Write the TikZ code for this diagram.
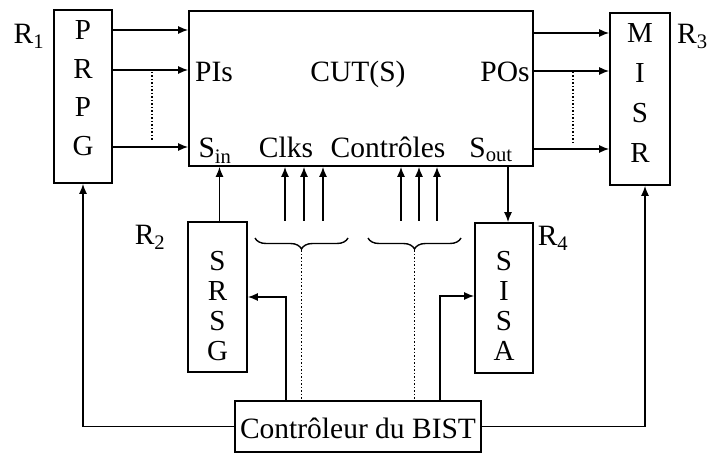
\documentclass[tikz,border=0pt]{standalone}
\usepackage{fontspec}
\setmainfont{Liberation Serif}
\usetikzlibrary{arrows.meta,decorations.pathreplacing}
\begin{document}
\begin{tikzpicture}[x=1pt,y=-1pt,
  box/.style={draw,line width=1.7pt,inner sep=0pt},
  arr/.style={line width=1.4pt,-{Latex[length=10pt,width=8pt]}},
  wire/.style={line width=1.4pt},
  dots/.style={line width=1.4pt,dash pattern=on 1.5pt off 2pt},
  lbl/.style={font=\fontsize{29.5}{32}\selectfont,inner sep=0pt},
  stack/.style={align=center,inner sep=0pt},
  br/.style={decorate,decoration={brace,mirror,amplitude=11pt},line width=1.4pt}
]
\useasboundingbox (0,0) rectangle (711,454);

% boxes
\node[box,minimum width=58pt,minimum height=173pt] (prpg) at (83,96.5) {};
\node[box,minimum width=344pt,minimum height=155pt] (cut) at (361,88.5) {};
\node[box,minimum width=60pt,minimum height=172pt] (misr) at (640,99) {};
\node[box,minimum width=59pt,minimum height=150pt] (srsg) at (217.5,297) {};
\node[box,minimum width=58pt,minimum height=150pt] (sisa) at (504,298) {};
\node[box,minimum width=246pt,minimum height=51pt] (ctrl) at (358,426.5) {};

% box texts
\node[stack,font=\fontsize{29}{38.5}\selectfont] (tprpg) at (83,88) {P\\R\\P\\G};
\node[stack,font=\fontsize{29}{40}\selectfont] (tmisr) at (640,93) {M\\I\\S\\R};
\node[stack,font=\fontsize{29}{30}\selectfont] (tsrsg) at (217.5,306) {S\\R\\S\\G};
\node[stack,font=\fontsize{29}{30}\selectfont] (tsisa) at (504,306) {S\\I\\S\\A};
\node[lbl] (tctrl) at (358,428) {Contrôleur du BIST};

% labels in CUT
\node[lbl,anchor=base] (pis) at (214,82) {PIs};
\node[lbl,anchor=base] (cuts) at (358,82) {CUT(S)};
\node[lbl,anchor=base] (pos) at (505,82) {POs};
\node[lbl,anchor=base] (sin) at (215,158) {S\textsubscript{in}};
\node[lbl,anchor=base] (clks) at (286,158) {Clks};
\node[lbl,anchor=base] (ctls) at (388,158) {Contrôles};
\node[lbl,anchor=base] (sout) at (491,158) {S\textsubscript{out}};

% register labels
\node[lbl] (r1) at (29,36) {R\textsubscript{1}};
\node[lbl,anchor=west] (r3) at (677,36) {R\textsubscript{3}};
\node[lbl] (r2) at (150,237) {R\textsubscript{2}};
\node[lbl] (r4) at (553,238) {R\textsubscript{4}};

% PRPG -> CUT
\foreach \yy in {30,70,147}
  \draw[arr] (prpg.east |- 0,\yy) -- (cut.west |- 0,\yy);
\draw[dots] (152,72) coordinate (d1a) -- (152,142) coordinate (d1b);

% CUT -> MISR
\foreach \yy in {33,71,149}
  \draw[arr] (cut.east |- 0,\yy) -- (misr.west |- 0,\yy);
\draw[dots] (573,72) coordinate (d2a) -- (573,143) coordinate (d2b);

% SRSG -> CUT (S_in)
\draw[arr] ([xshift=2pt]srsg.north) -- ([xshift=2pt]srsg.north |- cut.south);

% Clks and Controles inputs
\foreach \xx in {285,304,323,401,419,437}
  \draw[arr] (\xx,221) -- (cut.south -| \xx,0);

% braces
\draw[br] (255,238) -- (348,238);
\draw[br] (368,238) -- (461,238);
\coordinate (b1) at (301.5,250);
\coordinate (b2) at (414.5,250);
\draw[dots] (b1) -- (b1 |- ctrl.north);
\draw[dots] (b2) -- (b2 |- ctrl.north);

% S_out -> SISA
\draw[arr] ([xshift=4pt]sisa.north |- cut.south) -- ([xshift=4pt]sisa.north);

% controller connections
\draw[arr] (ctrl.west) -| (prpg.south);
\draw[arr] (ctrl.east) -| ([xshift=5pt]misr.south);
\draw[arr] ([xshift=-72pt]ctrl.north) |- (srsg.east);
\draw[arr] ([xshift=82pt]ctrl.north) |- ([yshift=2pt]sisa.west);
\end{tikzpicture}
\end{document}
